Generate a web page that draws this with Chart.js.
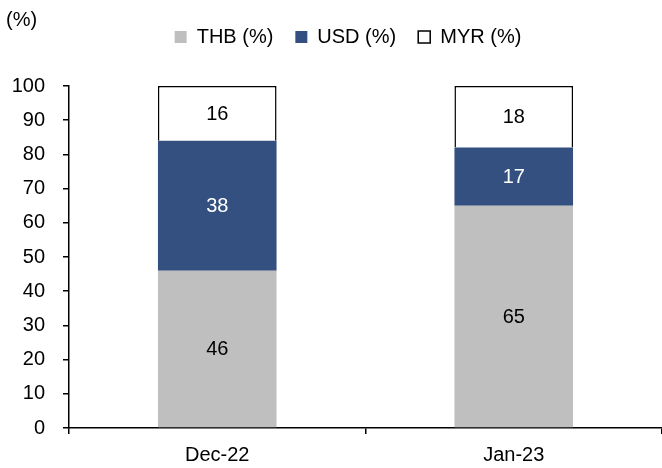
<!DOCTYPE html>
<html>
<head>
<meta charset="utf-8">
<script src="https://cdn.jsdelivr.net/npm/chart.js@4"></script>
<style>
  html, body { margin: 0; padding: 0; background: #fff; }
  #wrap { width: 662px; height: 468px; position: relative; }
</style>
</head>
<body>
<div id="wrap"><canvas id="myChart" width="662" height="468"></canvas></div>
<script>
const categories = ['Dec-22', 'Jan-23'];
const thb = [46, 65];
const usd = [38, 17];
const myr = [16, 18];
const yTicks = [0, 10, 20, 30, 40, 50, 60, 70, 80, 90, 100];

const fontName = '"Liberation Sans", Arial, sans-serif';

// draws the values inside each bar segment
const valueLabels = {
  id: 'valueLabels',
  afterDatasetsDraw(chart) {
    const ctx = chart.ctx;
    ctx.save();
    ctx.font = '20px ' + fontName;
    ctx.textAlign = 'center';
    ctx.textBaseline = 'middle';
    chart.data.datasets.forEach(function(ds, i) {
      const meta = chart.getDatasetMeta(i);
      meta.data.forEach(function(bar, j) {
        const mid = (bar.y + bar.base) / 2;
        ctx.fillStyle = ds.labelColor;
        ctx.fillText(ds.data[j], bar.x, mid + 1);
      });
    });
    ctx.restore();
  }
};

// the "(%)" unit note at the top left
const unitNote = {
  id: 'unitNote',
  afterDraw(chart) {
    const ctx = chart.ctx;
    ctx.save();
    ctx.font = '20px ' + fontName;
    ctx.fillStyle = '#000';
    ctx.textAlign = 'left';
    ctx.textBaseline = 'middle';
    ctx.fillText('(%)', 6, 20);
    ctx.restore();
  }
};

// extra room under the legend, and nudge it to the right
const legendGap = {
  id: 'legendGap',
  beforeInit(chart) {
    const fit = chart.legend.fit;
    chart.legend.fit = function() {
      fit.bind(chart.legend)();
      this.height += 29;
    };
  },
  afterLayout(chart) {
    chart.legend.left += 12;
    chart.legend.right += 12;
  }
};

const ctx = document.getElementById('myChart').getContext('2d');

const chart = new Chart(ctx, {
  type: 'bar',
  data: {
    labels: categories,
    datasets: [
      {
        label: 'THB (%)',
        data: thb,
        backgroundColor: '#BFBFBF',
        borderColor: '#BFBFBF',
        borderWidth: 0,
        labelColor: '#000'
      },
      {
        label: 'USD (%)',
        data: usd,
        backgroundColor: '#335080',
        borderColor: '#335080',
        borderWidth: 0,
        labelColor: '#fff'
      },
      {
        label: 'MYR (%)',
        data: myr,
        backgroundColor: '#FFFFFF',
        borderColor: '#000000',
        borderWidth: 1.5,
        labelColor: '#000'
      }
    ]
  },
  options: {
    responsive: false,
    animation: false,
    devicePixelRatio: 1,
    categoryPercentage: 1,
    barPercentage: 0.4,
    layout: { padding: { top: 5, right: 0, left: 10, bottom: 0 } },
    plugins: {
      tooltip: { enabled: false },
      legend: {
        position: 'top',
        labels: {
          font: { family: fontName, size: 20 },
          color: '#000',
          boxWidth: 12,
          boxHeight: 12,
          padding: 22,
          useBorderRadius: false
        }
      }
    },
    scales: {
      x: {
        stacked: true,
        offset: true,
        afterFit(scale) {
          scale.height = 40;
        },
        border: { color: '#000', width: 1.5 },
        grid: {
          display: true,
          drawOnChartArea: false,
          drawTicks: true,
          tickLength: 6,
          color: '#000',
          lineWidth: 1.5,
          offset: true
        },
        ticks: {
          font: { family: fontName, size: 20 },
          color: '#000',
          padding: 9
        }
      },
      y: {
        stacked: true,
        min: 0,
        max: 100,
        afterBuildTicks(scale) {
          scale.ticks = yTicks.map(v => ({ value: v }));
        },
        afterFit(scale) {
          scale.width = 59;
        },
        border: { color: '#000', width: 1.5 },
        grid: {
          display: true,
          drawOnChartArea: false,
          drawTicks: true,
          tickLength: 6,
          color: '#000',
          lineWidth: 1.5
        },
        ticks: {
          font: { family: fontName, size: 20 },
          color: '#000',
          padding: 18
        }
      }
    }
  },
  plugins: [valueLabels, unitNote, legendGap]
});
</script>
</body>
</html>
